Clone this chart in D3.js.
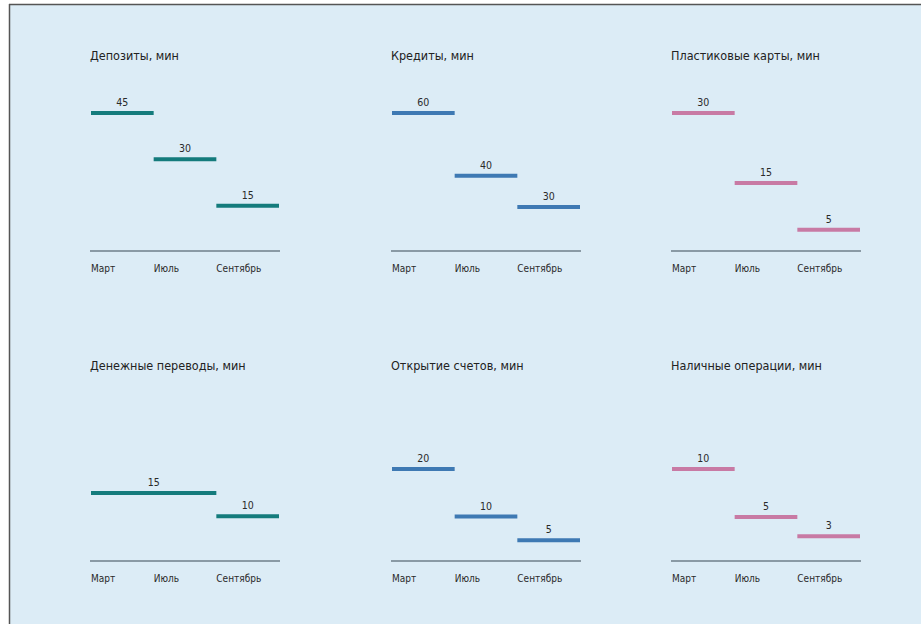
<!DOCTYPE html>
<html>
<head>
<meta charset="utf-8">
<script src="https://cdnjs.cloudflare.com/ajax/libs/d3/7.8.5/d3.min.js"></script>
<style>
  body { margin: 0; background: #fff; }
  svg { display: block; }
</style>
</head>
<body>
<svg id="chart" width="921" height="624"></svg>
<script>
// months on the x axis
var months = ["Март", "Июль", "Сентябрь"];

// panel titles
var titles = ["Депозиты, мин", "Кредиты, мин", "Пластиковые карты, мин",
              "Денежные переводы, мин", "Открытие счетов, мин", "Наличные операции, мин"];

// values per month (a step spans from its start month to its end month)
var deposits  = [{from: "Март", to: "Март", v: 45}, {from: "Июль", to: "Июль", v: 30}, {from: "Сентябрь", to: "Сентябрь", v: 15}];
var credits   = [{from: "Март", to: "Март", v: 60}, {from: "Июль", to: "Июль", v: 40}, {from: "Сентябрь", to: "Сентябрь", v: 30}];
var cards     = [{from: "Март", to: "Март", v: 30}, {from: "Июль", to: "Июль", v: 15}, {from: "Сентябрь", to: "Сентябрь", v: 5}];
var transfers = [{from: "Март", to: "Июль", v: 15}, {from: "Сентябрь", to: "Сентябрь", v: 10}];
var accounts  = [{from: "Март", to: "Март", v: 20}, {from: "Июль", to: "Июль", v: 10}, {from: "Сентябрь", to: "Сентябрь", v: 5}];
var cash      = [{from: "Март", to: "Март", v: 10}, {from: "Июль", to: "Июль", v: 5}, {from: "Сентябрь", to: "Сентябрь", v: 3}];

var series = [deposits, credits, cards, transfers, accounts, cash];

// layout for each panel (left x, axis y, y of zero, y of max value)
var layout = [
    {x: 91,  axis: 251, zero: 252, top: 113, color: "#147b7c"},
    {x: 392, axis: 251, zero: 301, top: 113, color: "#3e79b3"},
    {x: 672, axis: 251, zero: 253, top: 113, color: "#c87aa4"},
    {x: 91,  axis: 561, zero: 563, top: 493, color: "#147b7c"},
    {x: 392, axis: 561, zero: 564, top: 469, color: "#3e79b3"},
    {x: 672, axis: 561, zero: 565, top: 469, color: "#c87aa4"}
];

var svg = d3.select("#chart");
var font = "'Liberation Sans Narrow', 'DejaVu Sans Condensed', sans-serif";

// background and frame (top and left edges only)
svg.append("rect").attr("x", 9).attr("y", 4).attr("width", 912).attr("height", 620).attr("fill", "#dcecf6");
svg.append("line").attr("x1", 9).attr("x2", 921).attr("y1", 4.5).attr("y2", 4.5).attr("stroke", "#555").attr("stroke-width", 1.5);
svg.append("line").attr("x1", 9.5).attr("x2", 9.5).attr("y1", 4).attr("y2", 624).attr("stroke", "#555").attr("stroke-width", 1.5);

series.forEach(function(data, i) {
    var L = layout[i];
    var x = d3.scaleBand().domain(months).range([L.x, L.x + 188]).padding(0);
    var maxV = d3.max(data, function(d) { return d.v; });
    var y = d3.scaleLinear().domain([0, maxV]).range([L.zero, L.top]);

    var g = svg.append("g");

    g.append("text")
        .attr("x", L.x - 1)
        .attr("y", L.axis - 191)
        .attr("font-family", font)
        .attr("font-size", 12.5)
        .attr("fill", "#222")
        .text(titles[i]);

    // axis
    var axis = d3.axisBottom(x).tickSize(0).tickPadding(0);
    var ag = g.append("g").attr("transform", "translate(0," + L.axis + ")").call(axis);
    ag.select(".domain").attr("d", "M" + (L.x - 1) + ",0H" + (L.x + 189)).attr("stroke", "#6f7f8a").attr("stroke-width", 1.3);
    ag.selectAll(".tick text")
        .attr("x", -x.bandwidth() / 2)
        .attr("y", 14)
        .attr("text-anchor", "start")
        .attr("font-family", font)
        .attr("font-size", 10)
        .attr("fill", "#2a2a2a");

    // steps
    g.selectAll("line.step").data(data).enter().append("line")
        .attr("class", "step")
        .attr("x1", function(d) { return x(d.from); })
        .attr("x2", function(d) { return x(d.to) + x.bandwidth(); })
        .attr("y1", function(d) { return y(d.v); })
        .attr("y2", function(d) { return y(d.v); })
        .attr("stroke", L.color)
        .attr("stroke-width", 4);

    g.selectAll("text.val").data(data).enter().append("text")
        .attr("class", "val")
        .attr("x", function(d) { return (x(d.from) + x(d.to) + x.bandwidth()) / 2; })
        .attr("y", function(d) { return y(d.v) - 7; })
        .attr("text-anchor", "middle")
        .attr("font-family", font)
        .attr("font-size", 10.5)
        .attr("fill", "#2a2a2a")
        .text(function(d) { return d.v; });
});
</script>
</body>
</html>
